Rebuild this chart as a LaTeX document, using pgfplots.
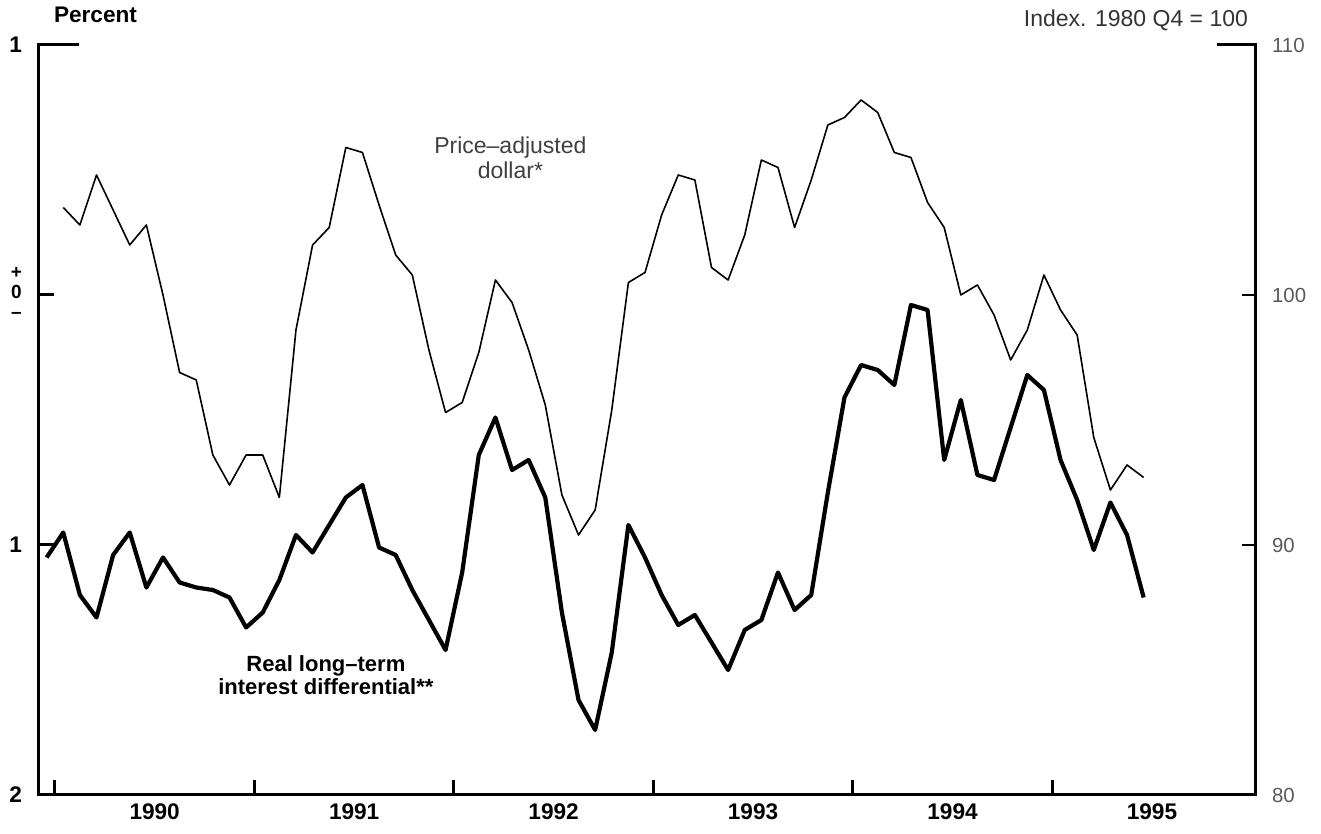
\documentclass[border=0pt]{standalone}
\usepackage{fontspec}
\setmainfont{Liberation Sans}
\usepackage{pgfplots}
\pgfplotsset{compat=1.18}
\begin{document}
\begin{tikzpicture}
\begin{axis}[
  scale only axis, width=608pt, height=375pt,
  xmin=-0.96, xmax=72.2, ymin=-2, ymax=1,
  clip=false,
  axis x line*=bottom, axis y line*=left,
  axis line style={-, line width=1.5pt, line cap=rect},
  tick align=inside, major tick length=7.5pt,
  tick style={line width=1.5pt, black},
  /pgf/number format/assume math mode=true,
  tick label style={font=\bfseries\fontsize{11.3}{13}\selectfont},
  xtick={0,12,24,36,48,60}, xticklabels={,,,,,},
  extra x ticks={6,18,30,42,54,66},
  extra x tick labels={1990,1991,1992,1993,1994,1995},
  extra x tick style={major tick length=0pt},
  xticklabel style={yshift=-1pt},
  ytick={-2,-1,0,1},
  yticklabels={2,1,{\fontsize{9.5}{10}\selectfont\begin{tabular}{@{}c@{}}+\\0\\–\end{tabular}},1},
  yticklabel style={xshift=-5pt},
]
\coordinate (bl) at (rel axis cs:0,0);
\coordinate (tr) at (rel axis cs:1,1);
\addplot[black, line width=2.1pt, line join=round] table {
x y
-0.5 -1.05
0.5 -0.95
1.5 -1.20
2.5 -1.29
3.5 -1.04
4.5 -0.95
5.5 -1.17
6.5 -1.05
7.5 -1.15
8.5 -1.17
9.5 -1.18
10.5 -1.21
11.5 -1.33
12.5 -1.27
13.5 -1.14
14.5 -0.96
15.5 -1.03
16.5 -0.92
17.5 -0.81
18.5 -0.76
19.5 -1.01
20.5 -1.04
21.5 -1.18
22.5 -1.30
23.5 -1.42
24.5 -1.11
25.5 -0.64
26.5 -0.49
27.5 -0.70
28.5 -0.66
29.5 -0.81
30.5 -1.27
31.5 -1.62
32.5 -1.74
33.5 -1.43
34.5 -0.92
35.5 -1.05
36.5 -1.20
37.5 -1.32
38.5 -1.28
39.5 -1.39
40.5 -1.50
41.5 -1.34
42.5 -1.30
43.5 -1.11
44.5 -1.26
45.5 -1.20
46.5 -0.79
47.5 -0.41
48.5 -0.28
49.5 -0.30
50.5 -0.36
51.5 -0.04
52.5 -0.06
53.5 -0.66
54.5 -0.42
55.5 -0.72
56.5 -0.74
57.5 -0.53
58.5 -0.32
59.5 -0.38
60.5 -0.66
61.5 -0.82
62.5 -1.02
63.5 -0.83
64.5 -0.96
65.5 -1.21
};
\draw[line width=1.5pt] (rel axis cs:0,1) -- ([xshift=20pt]rel axis cs:0,1);
\node[font=\bfseries\fontsize{11.3}{13}\selectfont, anchor=base west]
  at ([xshift=4pt,yshift=11pt]rel axis cs:0,1) {Percent};
\node[font=\bfseries\fontsize{11}{9}\selectfont, align=center]
  at (axis cs:16.3,-1.52) {Real long–term\\interest differential**};
\node[font=\fontsize{11.5}{12.5}\selectfont, align=center, text=black!75]
  at (axis cs:27.4,0.55) {Price–adjusted\\dollar*};
\end{axis}
\begin{axis}[
  scale only axis, width=608pt, height=375pt,
  xmin=-0.96, xmax=72.2, ymin=80, ymax=110,
  clip=false,
  axis x line=none, xtick=\empty,
  axis y line*=right,
  axis line style={-, line width=1.5pt, line cap=rect},
  tick align=inside, major tick length=6.5pt,
  tick style={line width=1pt, black},
  /pgf/number format/assume math mode=true,
  ytick={80,90,100,110}, yticklabels={80,90,100,110},
  yticklabel style={font=\fontsize{10.2}{12}\selectfont, text=black!65, xshift=5pt},
]
\addplot[black, line width=0.8pt, line join=round] table {
x y
0.5 103.5
1.5 102.8
2.5 104.8
3.5 103.4
4.5 102.0
5.5 102.8
6.5 100.0
7.5 96.9
8.5 96.6
9.5 93.6
10.5 92.4
11.5 93.6
12.5 93.6
13.5 91.9
14.5 98.6
15.5 102.0
16.5 102.7
17.5 105.9
18.5 105.7
19.5 103.6
20.5 101.6
21.5 100.8
22.5 97.8
23.5 95.3
24.5 95.7
25.5 97.7
26.5 100.6
27.5 99.7
28.5 97.8
29.5 95.6
30.5 92.0
31.5 90.4
32.5 91.4
33.5 95.4
34.5 100.5
35.5 100.9
36.5 103.2
37.5 104.8
38.5 104.6
39.5 101.1
40.5 100.6
41.5 102.4
42.5 105.4
43.5 105.1
44.5 102.7
45.5 104.6
46.5 106.8
47.5 107.1
48.5 107.8
49.5 107.3
50.5 105.7
51.5 105.5
52.5 103.7
53.5 102.7
54.5 100.0
55.5 100.4
56.5 99.2
57.5 97.4
58.5 98.6
59.5 100.8
60.5 99.4
61.5 98.4
62.5 94.3
63.5 92.2
64.5 93.2
65.5 92.7
};
\draw[line width=1.5pt] (rel axis cs:1,1) -- ([xshift=-19pt]rel axis cs:1,1);
\node[font=\fontsize{11.5}{13}\selectfont, anchor=base east, text=black!80]
  at ([yshift=9pt]rel axis cs:1,1) {Index. 1980 Q4 = 100};
\end{axis}
\pgfresetboundingbox
\path[use as bounding box] ([shift={(-19.5pt,-19.5pt)}]bl) rectangle ([shift={(33pt,22.5pt)}]tr);
\end{tikzpicture}
\end{document}
